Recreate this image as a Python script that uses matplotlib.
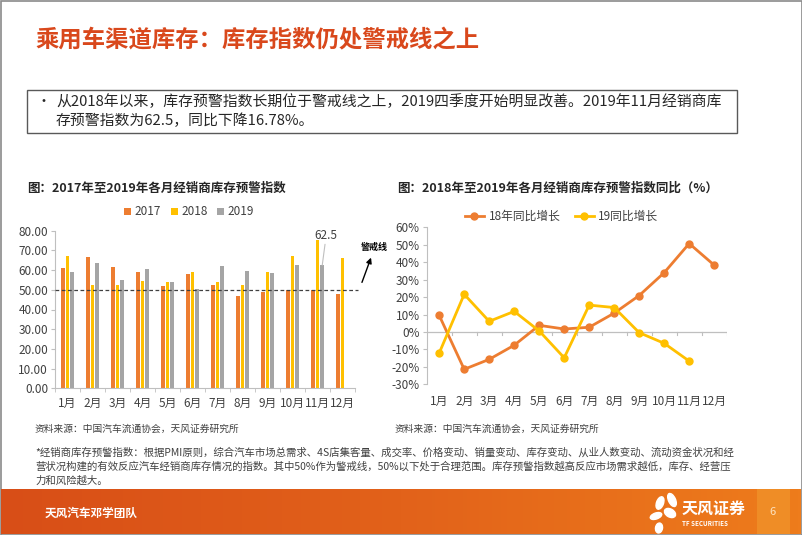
import matplotlib
matplotlib.use("Agg")
import matplotlib.pyplot as plt
import numpy as np
from matplotlib.patches import Rectangle, Ellipse
from matplotlib.colors import LinearSegmentedColormap

plt.rcParams['font.family'] = ['Noto Sans CJK SC', 'DejaVu Sans']

months = ["1月", "2月", "3月", "4月", "5月", "6月", "7月", "8月", "9月", "10月", "11月", "12月"]
idx_2017 = [61.3, 66.5, 61.8, 59.2, 51.8, 58.2, 52.4, 47.0, 48.7, 49.9, 49.9, 47.8]
idx_2018 = [67.0, 52.5, 52.2, 54.7, 53.8, 59.0, 53.9, 52.2, 58.8, 67.0, 75.1, 66.0]
idx_2019 = [58.8, 63.5, 55.2, 60.8, 54.2, 50.6, 62.3, 59.4, 58.6, 62.5, 62.5]
yoy_18 = [9.5, -21.4, -15.7, -7.6, 3.8, 1.7, 2.7, 10.8, 20.9, 34.0, 50.7, 38.3]
yoy_19 = [-12.1, 21.6, 6.1, 11.8, 0.6, -14.8, 15.4, 14.0, -0.4, -6.5, -16.7]
left_yticks = [0, 10, 20, 30, 40, 50, 60, 70, 80]
right_yticks = [-30, -20, -10, 0, 10, 20, 30, 40, 50, 60]

C17 = "#ED7D31"
C18 = "#FFC000"
C19 = "#A5A5A5"
TXT = "#404040"
W, H = 802, 535

fig = plt.figure(figsize=(W / 100, H / 100), dpi=100)

def fx(x):
    return x / W

def fy(y):
    return 1 - y / H

# background overlay axes
bg = fig.add_axes([0, 0, 1, 1])
bg.set_xlim(0, W)
bg.set_ylim(H, 0)
bg.axis("off")

# slide frame
bg.add_patch(Rectangle((0.5, 0.5), W - 1, H - 1, fill=False, ec="#8a8a8a", lw=1.2))

# title
bg.text(35, 40, "乘用车渠道库存：库存指数仍处警戒线之上", fontsize=16.8, fontweight="bold",
        color="#D9481C", va="center", ha="left")

# text box
bg.add_patch(Rectangle((27, 90), 710, 43, fill=False, ec="#595959", lw=1.0))
bg.text(36, 102, "•", fontsize=10, color="#262626", va="center")
bg.text(56, 102, "从2018年以来，库存预警指数长期位于警戒线之上，2019四季度开始明显改善。2019年11月经销商库",
        fontsize=10.7, color="#262626", va="center")
bg.text(56, 121, "存预警指数为62.5，同比下降16.78%。", fontsize=10.7, color="#262626", va="center")

# chart titles
bg.text(27, 188, "图：2017年至2019年各月经销商库存预警指数", fontsize=9, fontweight="bold",
        color="#262626", va="center")
bg.text(397, 188, "图：2018年至2019年各月经销商库存预警指数同比（%）", fontsize=9, fontweight="bold",
        color="#262626", va="center")

# source notes
bg.text(35, 429, "资料来源：中国汽车流通协会，天风证券研究所", fontsize=7, color="#404040", va="center")
bg.text(395, 429, "资料来源：中国汽车流通协会，天风证券研究所", fontsize=7, color="#404040", va="center")

# footnote
notes = ["*经销商库存预警指数：根据PMI原则，综合汽车市场总需求、4S店集客量、成交率、价格变动、销量变动、库存变动、从业人数变动、流动资金状况和经",
         "营状况构建的有效反应汽车经销商库存情况的指数。其中50%作为警戒线，50%以下处于合理范围。库存预警指数越高反应市场需求越低，库存、经营压",
         "力和风险越大。"]
for i, t in enumerate(notes):
    bg.text(35, 452 + i * 14.5, t, fontsize=7.5, color="#404040", va="center")

# footer band gradient
cmap = LinearSegmentedColormap.from_list("ft", ["#D84E17", "#E2621A", "#EE7C1C"])
grad = np.linspace(0, 1, 256).reshape(1, -1)
bg.imshow(grad, extent=(1, W - 1, 534, 489), cmap=cmap, aspect="auto", zorder=1)
bg.add_patch(Rectangle((757, 489), 33, 45, color="#F29A2E", alpha=0.6, lw=0, zorder=2))
bg.set_xlim(0, W)
bg.set_ylim(H, 0)
bg.text(45, 513, "天风汽车邓学团队", fontsize=8.4, fontweight="bold", color="white", va="center", zorder=3)
# logo
for (cx, cy, w, h, a) in [(660, 503, 7, 13, 20), (672, 500, 7, 14, -25), (656, 516, 12, 6, -20),
                          (670, 513, 12, 8, 30), (659, 528, 7, 10, 10)]:
    bg.add_patch(Ellipse((cx, cy), w, h, angle=a, color="white", zorder=3))
bg.text(682, 509, "天风证券", fontsize=11.5, fontweight="bold", color="white", va="center", zorder=3)
bg.text(682, 523, "TF SECURITIES", fontsize=4.5, fontweight="bold", color="white", va="center", zorder=3)
bg.text(773, 512, "6", fontsize=8, color="#FDE3C0", va="center", ha="center", zorder=3)

# ---------------- left chart ----------------
axL = fig.add_axes([fx(55), fy(388.3), fx(300), (388.3 - 230.7) / H])
x = np.arange(len(months))
bw = 0.15
off = 0.19
axL.bar(x - off, idx_2017, bw, color=C17, label="2017", zorder=2)
axL.bar(x, idx_2018, bw, color=C18, label="2018", zorder=2)
axL.bar(np.arange(len(idx_2019)) + off, idx_2019, bw, color=C19, label="2019", zorder=2)
axL.set_ylim(0, 80)
axL.set_xlim(-0.5, 11.5)
axL.set_yticks(left_yticks)
axL.set_yticklabels([f"{v:.2f}" for v in left_yticks])
axL.set_xticks(x)
axL.set_xticklabels(months)
axL.set_xticks(np.arange(-0.5, 12, 1), minor=True)
axL.tick_params(axis="x", which="major", length=0, pad=6, labelsize=8.5, labelcolor=TXT)
axL.tick_params(axis="x", which="minor", length=3, color="#BFBFBF")
axL.tick_params(axis="y", length=3, color="#BFBFBF", labelsize=8.5, labelcolor=TXT, pad=2)
for s in ["top", "right"]:
    axL.spines[s].set_visible(False)
for s in ["left", "bottom"]:
    axL.spines[s].set_color("#BFBFBF")
axL.axhline(50, xmin=0, xmax=1.01, ls=(0, (3, 2)), color="#404040", lw=0.9, zorder=3, clip_on=False)
axL.legend(loc="lower center", bbox_to_anchor=(0.447, 1.01), ncol=3, frameon=False, fontsize=8.5,
           handlelength=0.6, handleheight=0.6, handletextpad=0.3, columnspacing=0.8,
           labelcolor=TXT)
# 62.5 annotation
axL.annotate("62.5", xy=(10 + off, idx_2019[10]), xytext=(10.35, 74.5), fontsize=8.5, color=TXT,
             ha="center", va="bottom",
             arrowprops=dict(arrowstyle="-", color="#BFBFBF", lw=0.8, shrinkA=0, shrinkB=0))
# warning line label
bg.annotate("", xy=(372, 255), xytext=(361, 285),
            arrowprops=dict(arrowstyle="-|>", color="black", lw=1.0, mutation_scale=8))
bg.text(374, 247, "警戒线", fontsize=6.5, fontweight="bold", color="black", va="center", ha="center")

# ---------------- right chart ----------------
axR = fig.add_axes([fx(426.7), fy(384.3), fx(300), (384.3 - 227.3) / H])
axR.plot(x, yoy_18, color=C17, lw=2, marker="o", ms=5, label="18年同比增长", zorder=3)
axR.plot(np.arange(len(yoy_19)), yoy_19, color=C18, lw=2, marker="o", ms=5, label="19同比增长", zorder=3)
axR.set_ylim(-30, 60)
axR.set_xlim(-0.5, 11.5)
axR.set_yticks(right_yticks)
axR.set_yticklabels([f"{v}%" for v in right_yticks])
axR.set_xticks(x)
axR.set_xticklabels(months)
axR.tick_params(axis="x", which="major", length=0, pad=8, labelsize=8.5, labelcolor=TXT)
axR.tick_params(axis="y", length=3, color="#BFBFBF", labelsize=8.5, labelcolor=TXT, pad=2)
for s in ["top", "right", "bottom"]:
    axR.spines[s].set_visible(False)
axR.spines["left"].set_color("#BFBFBF")
axR.axhline(0, color="#BFBFBF", lw=0.9, zorder=1)
for xb in np.arange(0.5, 12, 1):
    axR.plot([xb, xb], [0, -1.8], color="#BFBFBF", lw=0.8, zorder=1)
axR.legend(loc="lower center", bbox_to_anchor=(0.45, 0.96), ncol=2, frameon=False, fontsize=8.5,
           handlelength=1.6, handletextpad=0.4, columnspacing=1.2, labelcolor=TXT)

fig.savefig("out.png", dpi=100)
